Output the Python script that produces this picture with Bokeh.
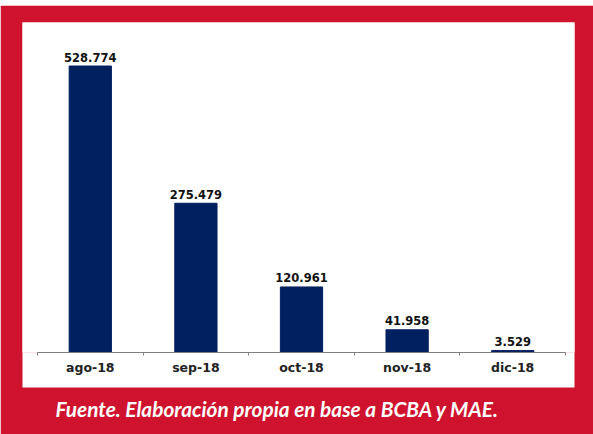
from bokeh.plotting import figure
from bokeh.models import ColumnDataSource, Range1d, FixedTicker, Title
from bokeh.core.properties import value
from bokeh.embed import file_html
from bokeh.resources import INLINE

# ---- data ----
months = ["ago-18", "sep-18", "oct-18", "nov-18", "dic-18"]
amounts = [528.774, 275.479, 120.961, 41.958, 3.529]
amount_labels = ["528.774", "275.479", "120.961", "41.958", "3.529"]
caption = "Fuente. Elaboración propia en base a BCBA y MAE."

RED = "#CF122D"
NAVY = "#002060"

n = len(months)
centers = [i + 0.5 for i in range(n)]
src = ColumnDataSource(dict(x=centers, top=amounts, lab=amount_labels))

p = figure(width=593, height=429, output_backend="svg", toolbar_location=None,
           x_range=Range1d(-0.142, 5.085), y_range=Range1d(0, 609.1),
           min_border_left=22, min_border_right=19, min_border_top=17,
           min_border_bottom=82, outline_line_color=None)
p.styles = {"margin-top": "5px"}
p.outline_line_alpha = 0
p.background_fill_color = "white"
p.border_fill_color = RED
p.grid.visible = False
p.yaxis.visible = False

p.vbar(x="x", top="top", width=0.40, bottom=0, source=src,
       fill_color=NAVY, line_color=NAVY, line_width=1)
p.text(x="x", y="top", text="lab", source=src, text_align="center",
       text_baseline="alphabetic", y_offset=-9,
       text_font=value("DejaVu Sans"), text_font_style="bold",
       text_font_size="11.5px", text_color="#111111")

ax = p.xaxis[0]
ax.bounds = (0, n)
ax.ticker = FixedTicker(ticks=centers, minor_ticks=list(range(n + 1)))
ax.major_label_overrides = {c: m for c, m in zip(centers, months)}
ax.major_tick_out = 0
ax.major_tick_in = 0
ax.minor_tick_out = 3
ax.minor_tick_in = 0
ax.minor_tick_line_color = "#7f7f7f"
ax.axis_line_color = "#7f7f7f"
ax.axis_line_width = 1
ax.major_label_standoff = 4
ax.major_label_text_font = "DejaVu Sans"
ax.major_label_text_font_style = "bold"
ax.major_label_text_font_size = "12.5px"
ax.major_label_text_color = "#222222"
ax.axis_label = " "
ax.axis_label_standoff = 0
ax.axis_label_text_font_size = "7px"
ax.background_fill_color = "white"

cap = Title(text=caption, align="left", offset=33, standoff=13,
            text_font="Lato", text_font_style="bold italic",
            text_font_size="20.8px", text_color="white")
p.add_layout(cap, "below")

open("out.html", "w").write(file_html(p, INLINE))
